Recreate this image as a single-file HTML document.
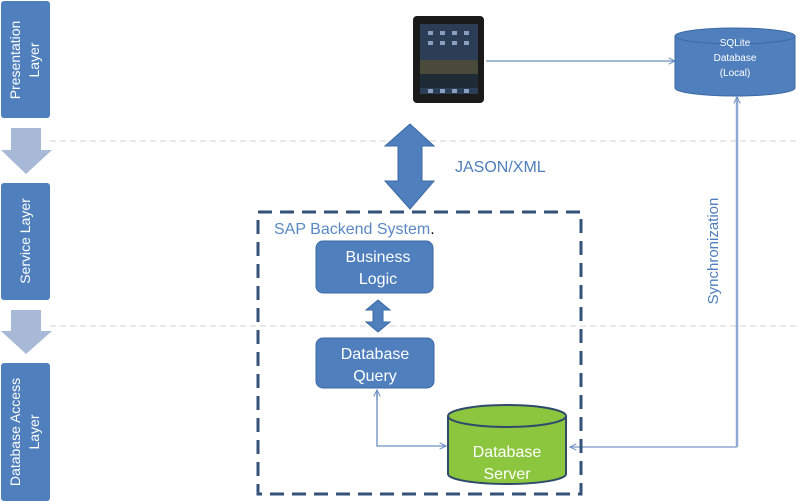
<!DOCTYPE html>
<html><head><meta charset="utf-8"><style>
html,body{margin:0;padding:0;background:#fff;}
svg{display:block;font-family:"Liberation Sans",sans-serif;}
</style></head><body>
<svg width="797" height="501" viewBox="0 0 797 501" xmlns="http://www.w3.org/2000/svg">
<defs>
<marker id="ah" viewBox="0 0 10 10" refX="9" refY="5" markerWidth="8" markerHeight="8" orient="auto-start-reverse" markerUnits="userSpaceOnUse">
<path d="M1,1 L9,5 L1,9" fill="none" stroke="#6a8fc4" stroke-width="1.3"/></marker>
</defs>
<line x1="50" y1="141" x2="797" y2="141" stroke="#d0d0d0" stroke-dasharray="6,4"/>
<line x1="50" y1="326" x2="797" y2="326" stroke="#d0d0d0" stroke-dasharray="6,4"/>
<rect x="1" y="1" width="49" height="117" rx="3" fill="#4f7fbd"/>
<text transform="translate(20,60) rotate(-90)" text-anchor="middle" fill="#fff" font-size="14">Presentation</text>
<text transform="translate(39,60) rotate(-90)" text-anchor="middle" fill="#fff" font-size="14">Layer</text>
<rect x="1" y="183" width="49" height="117" rx="3" fill="#4f7fbd"/>
<text transform="translate(30,241) rotate(-90)" text-anchor="middle" fill="#fff" font-size="14">Service Layer</text>
<rect x="1" y="363" width="49" height="138" rx="3" fill="#4f7fbd"/>
<text transform="translate(20,432) rotate(-90)" text-anchor="middle" fill="#fff" font-size="14">Database Access</text>
<text transform="translate(39,432) rotate(-90)" text-anchor="middle" fill="#fff" font-size="14">Layer</text>
<path d="M11,128 H41 V150 H52 L26,174 L1,150 H11Z" fill="#a7b9d6"/>
<path d="M11,310 H41 V331 H52 L26,354 L1,331 H11Z" fill="#a7b9d6"/>
<rect x="413" y="16" width="71" height="87" rx="4" fill="#1a1a1a"/>
<rect x="420" y="24" width="58" height="70" fill="#2c3e55"/>
<rect x="420" y="60" width="58" height="14" fill="#4a4a3a"/>
<rect x="420" y="74" width="58" height="14" fill="#1e2a35"/>
<g fill="#8aa0c0"><rect x="428" y="31" width="5" height="4"/><rect x="440" y="31" width="5" height="4"/><rect x="452" y="31" width="5" height="4"/><rect x="464" y="31" width="5" height="4"/>
<rect x="428" y="41" width="5" height="4"/><rect x="440" y="41" width="5" height="4"/><rect x="452" y="41" width="5" height="4"/><rect x="464" y="41" width="5" height="4"/>
<rect x="428" y="89" width="5" height="4"/><rect x="440" y="89" width="5" height="4"/><rect x="452" y="89" width="5" height="4"/><rect x="464" y="89" width="5" height="4"/></g>
<line x1="486" y1="61" x2="675" y2="61" stroke="#6a8fc4" stroke-width="1.3" marker-end="url(#ah)"/>
<path d="M675,36 V88 A60,8 0 0 0 795,88 V36" fill="#4f7fbd" stroke="#3c6aa5"/>
<ellipse cx="735" cy="36" rx="60" ry="8" fill="#4f7fbd" stroke="#3c6aa5"/>
<text x="735" y="46" text-anchor="middle" fill="#fff" font-size="10">SQLite</text>
<text x="735" y="61" text-anchor="middle" fill="#fff" font-size="10">Database</text>
<text x="735" y="76" text-anchor="middle" fill="#fff" font-size="10">(Local)</text>
<polyline points="737,447 737,96" fill="none" stroke="#8fa9d2" stroke-width="2.5"/>
<line x1="737" y1="447" x2="570" y2="447" stroke="#8fa9d2" stroke-width="1.5" marker-end="url(#ah)"/>
<line x1="737" y1="110" x2="737" y2="97" stroke="#8fa9d2" stroke-width="2" marker-end="url(#ah)"/>
<text transform="translate(718,251) rotate(-90)" text-anchor="middle" fill="#4f7fbd" font-size="15">Synchronization</text>
<path d="M410,124 L434,146 H422 V181 H434 L410,209 L385,181 H398 V146 H385Z" fill="#4f7fbd" stroke="#3c6aa5"/>
<text x="455" y="172" fill="#4f7fbd" font-size="16">JASON/XML</text>
<rect x="258" y="212" width="323" height="282" fill="none" stroke="#34527a" stroke-width="3" stroke-dasharray="14,8"/>
<text x="274" y="234" fill="#5a88c4" font-size="16">SAP Backend System<tspan fill="#000">.</tspan></text>
<rect x="316" y="241" width="117" height="52" rx="7" fill="#4f7fbd" stroke="#3c6aa5"/>
<text x="378" y="262" text-anchor="middle" fill="#fff" font-size="16">Business</text>
<text x="378" y="284" text-anchor="middle" fill="#fff" font-size="16">Logic</text>
<path d="M378,300 L390,310 H383 V322 H390 L378,332 L366,322 H373 V310 H366Z" fill="#4f7fbd" stroke="#3c6aa5"/>
<rect x="316" y="338" width="118" height="50" rx="7" fill="#4f7fbd" stroke="#3c6aa5"/>
<text x="375" y="359" text-anchor="middle" fill="#fff" font-size="16">Database</text>
<text x="375" y="381" text-anchor="middle" fill="#fff" font-size="16">Query</text>
<polyline points="377,390 377,446 446,446" fill="none" stroke="#6a8fc4" stroke-width="1.3" marker-end="url(#ah)"/>
<line x1="377" y1="400" x2="377" y2="390" stroke="#6a8fc4" stroke-width="1.3" marker-end="url(#ah)"/>
<path d="M448,416 V474 A59,10 0 0 0 566,474 V416" fill="#8cc63f" stroke="#2f4a6a" stroke-width="2"/>
<ellipse cx="507" cy="416" rx="59" ry="11" fill="#8cc63f" stroke="#2f4a6a" stroke-width="2"/>
<text x="507" y="457" text-anchor="middle" fill="#fff" font-size="16">Database</text>
<text x="507" y="479" text-anchor="middle" fill="#fff" font-size="16">Server</text>
</svg>
</body></html>
